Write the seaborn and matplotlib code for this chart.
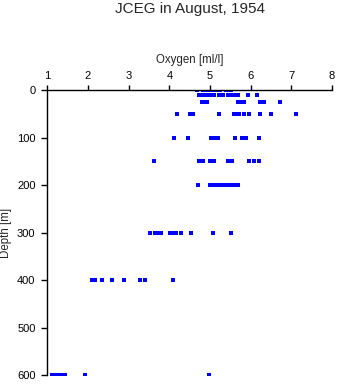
import matplotlib
matplotlib.use("Agg")
import matplotlib.pyplot as plt
import seaborn as sns
import pandas as pd

# ---- data ----
depths = [0, 10, 25, 50, 100, 150, 200, 300, 400, 600]
oxy_0 = [4.68, 4.82, 4.92, 4.97, 5.02, 5.08, 5.14, 5.24, 5.40, 5.46, 5.52]
oxy_10 = [4.73, 4.84, 4.90, 4.93, 5.02, 5.11, 5.23, 5.28, 5.31, 5.44, 5.52, 5.60, 5.70, 5.94, 6.15]
oxy_25 = [4.81, 4.86, 4.92, 5.70, 5.75, 5.80, 5.84, 6.23, 6.34, 6.72]
oxy_50 = [4.20, 4.51, 4.58, 5.23, 5.59, 5.63, 5.66, 5.72, 5.84, 5.97, 6.22, 6.51, 7.11]
oxy_100 = [4.11, 4.45, 5.03, 5.08, 5.12, 5.20, 5.62, 5.78, 5.82, 5.89, 6.20]
oxy_150 = [3.63, 4.73, 4.82, 5.00, 5.11, 5.45, 5.53, 5.97, 6.07, 6.21]
oxy_200 = [4.70, 5.00, 5.04, 5.07, 5.15, 5.22, 5.32, 5.39, 5.49, 5.57, 5.64, 5.68]
oxy_300 = [3.53, 3.65, 3.72, 3.79, 4.02, 4.10, 4.16, 4.28, 4.54, 5.08, 5.51]
oxy_400 = [2.09, 2.17, 2.34, 2.58, 2.89, 3.29, 3.41, 4.08]
oxy_600 = [1.11, 1.17, 1.23, 1.31, 1.38, 1.44, 1.93, 4.98]

x_ticks = [1, 2, 3, 4, 5, 6, 7, 8]
y_ticks = [0, 100, 200, 300, 400, 500, 600]
title = "JCEG in August, 1954"
x_label = "Oxygen [ml/l]"
y_label = "Depth [m]"

series = [oxy_0, oxy_10, oxy_25, oxy_50, oxy_100, oxy_150, oxy_200, oxy_300, oxy_400, oxy_600]
rows = []
for d, vals in zip(depths, series):
    for v in vals:
        rows.append({"oxygen": v, "depth": d})
df = pd.DataFrame(rows)

# ---- plotting ----
sns.set_style("white")
plt.rcParams["font.family"] = ["Liberation Sans", "DejaVu Sans"]

W, H = 338, 384
fig = plt.figure(figsize=(W / 100, H / 100), dpi=100)
left, right, top, bottom = 47.3, 332.0, 90.0, 375.3
ax = fig.add_axes([left / W, 1 - bottom / H, (right - left) / W, (bottom - top) / H])

sns.scatterplot(data=df, x="oxygen", y="depth", ax=ax, marker="s", s=6,
                color="#0000ff", linewidth=0, legend=False)

ax.set_xlim(1, 8)
ax.set_ylim(600, 0)
ax.set_xticks(x_ticks)
ax.set_yticks(y_ticks)
ax.xaxis.tick_top()
ax.xaxis.set_label_position("top")

for s in ["right", "bottom"]:
    ax.spines[s].set_visible(False)
for s in ["top", "left"]:
    ax.spines[s].set_color("black")
    ax.spines[s].set_linewidth(1.0)

ax.tick_params(axis="x", direction="out", length=3.8, width=1.0, pad=2.8,
               labelsize=8, colors="black", top=True, bottom=False)
ax.tick_params(axis="y", direction="out", length=4.0, width=1.0, pad=4.5,
               labelsize=8, colors="black", left=True)

ax.set_xlabel(x_label, fontsize=8.3)
ax.set_ylabel(y_label, fontsize=8.3)
ax.xaxis.set_label_coords(0.5, (top - 60.5) / (bottom - top) + 1.0)
ax.xaxis.label.set_va("center")
ax.yaxis.set_label_coords((6.0 - left) / (right - left), 0.5)
ax.yaxis.label.set_va("center")

fig.text(189.7 / W, 1 - 9.5 / H, title, ha="center", va="center", fontsize=11)

fig.savefig("out.png", dpi=100)
